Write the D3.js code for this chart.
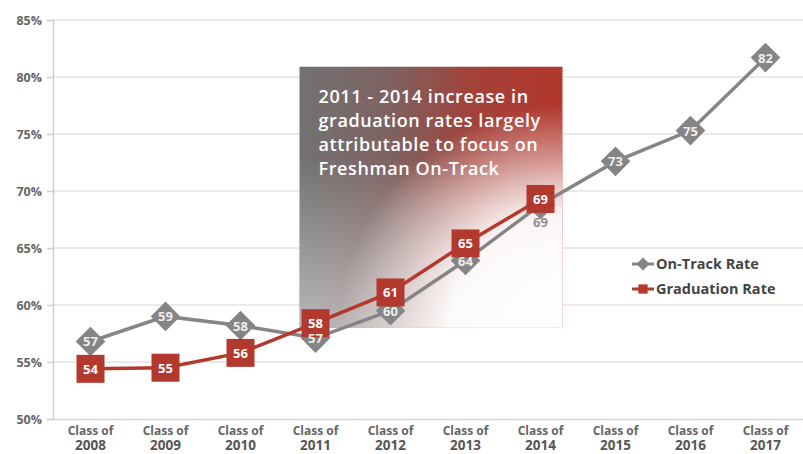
<html>
<head>
  <script src="https://d3js.org/d3.v7.min.js"></script>
  <style>
    body { margin: 0; background: #fff; }
    text { font-family: "Open Sans", sans-serif; }
  </style>
</head>
<body>
  <script>
    let classes = ["2008", "2009", "2010", "2011", "2012", "2013", "2014", "2015", "2016", "2017"];
    let onTrack = [56.8, 59.0, 58.2, 57.1, 59.5, 63.9, 68.8, 72.6, 75.3, 81.7];
    let onTrackLabels = ["57", "59", "58", "57", "60", "64", "69", "73", "75", "82"];
    let graduation = [54.4, 54.5, 55.8, 58.4, 61.1, 65.4, 69.3];
    let gradLabels = ["54", "55", "56", "58", "61", "65", "69"];
    let yTicks = [50, 55, 60, 65, 70, 75, 80, 85];
    let noteLines = ["2011 - 2014 increase in", "graduation rates largely", "attributable to focus on", "Freshman On-Track"];

    let width = 803;
    let height = 454;
    let margin = {left: 53, right: 0, top: 20, bottom: 35};

    let svg = d3.select("body")
      .append("svg")
      .attr("width", width)
      .attr("height", height);

    let x = d3.scaleBand()
      .domain(classes)
      .range([margin.left, width - margin.right]);

    let y = d3.scaleLinear()
      .domain([50, 85])
      .range([height - margin.bottom, margin.top]);

    let cx = i => x(classes[i]) + x.bandwidth() / 2;

    // gridlines
    svg.append("g")
      .selectAll("line")
      .data(yTicks.slice(1))
      .enter()
      .append("line")
      .attr("x1", margin.left)
      .attr("x2", width)
      .attr("y1", d => y(d))
      .attr("y2", d => y(d))
      .attr("stroke", "#e3e3e3")
      .attr("stroke-width", 1.5);

    // annotation box gradients
    let defs = svg.append("defs");
    let lin = defs.append("linearGradient").attr("id", "boxGrad")
      .attr("x1", "0%").attr("y1", "0%").attr("x2", "100%").attr("y2", "0%");
    lin.append("stop").attr("offset", "0%").attr("stop-color", "#727272");
    lin.append("stop").attr("offset", "35%").attr("stop-color", "#7e6261");
    lin.append("stop").attr("offset", "65%").attr("stop-color", "#a2423a");
    lin.append("stop").attr("offset", "100%").attr("stop-color", "#b3372d");

    let rad = defs.append("radialGradient").attr("id", "fadeGrad")
      .attr("cx", "100%").attr("cy", "100%").attr("r", "85%")
      .attr("fx", "100%").attr("fy", "100%");
    rad.append("stop").attr("offset", "0%").attr("stop-color", "#fff").attr("stop-opacity", 1);
    rad.append("stop").attr("offset", "50%").attr("stop-color", "#fff").attr("stop-opacity", 0.95);
    rad.append("stop").attr("offset", "100%").attr("stop-color", "#fff").attr("stop-opacity", 0);

    let vfade = defs.append("linearGradient").attr("id", "vFade")
      .attr("x1", "0%").attr("y1", "0%").attr("x2", "0%").attr("y2", "100%");
    vfade.append("stop").attr("offset", "35%").attr("stop-color", "#fff").attr("stop-opacity", 0);
    vfade.append("stop").attr("offset", "100%").attr("stop-color", "#fff").attr("stop-opacity", 0.5);

    let boxX0 = cx(3) - 16;
    let boxX1 = cx(6) + 22;
    let boxY0 = y(80.9);
    let boxY1 = y(58.0);

    let box = svg.append("g");
    ["url(#boxGrad)", "url(#vFade)", "url(#fadeGrad)"].forEach(f => {
      box.append("rect")
        .attr("x", boxX0).attr("y", boxY0)
        .attr("width", boxX1 - boxX0).attr("height", boxY1 - boxY0)
        .attr("fill", f);
    });

    box.selectAll("text")
      .data(noteLines)
      .enter()
      .append("text")
      .attr("x", boxX0 + 19)
      .attr("y", (d, i) => boxY0 + 36 + i * 24)
      .attr("fill", "#fff")
      .attr("font-size", 18)
      .attr("letter-spacing", 0.6)
      .attr("font-weight", 600)
      .text(d => d);

    // y axis
    let yAxis = svg.append("g")
      .attr("transform", "translate(" + margin.left + ",0)")
      .call(d3.axisLeft(y).tickValues(yTicks).tickFormat(d => d + "%").tickSize(6).tickPadding(5));
    yAxis.select(".domain").attr("stroke", "#cfcfcf").attr("stroke-width", 1.5);
    yAxis.selectAll(".tick line").attr("stroke", "#cfcfcf").attr("stroke-width", 1.5);
    yAxis.selectAll(".tick text")
      .attr("fill", "#666")
      .attr("font-size", 12.5)
      .attr("font-weight", 700)
      .style("font-family", "'Open Sans', sans-serif");

    // x axis
    let xAxis = svg.append("g")
      .attr("transform", "translate(0," + y(50) + ")")
      .call(d3.axisBottom(x).tickSize(0).tickFormat(""));
    xAxis.select(".domain").attr("stroke", "#d6d6d6").attr("stroke-width", 1.5);

    let xl = svg.append("g");
    xl.selectAll(".lab1")
      .data(classes)
      .enter()
      .append("text")
      .attr("x", d => x(d) + x.bandwidth() / 2)
      .attr("y", 435)
      .attr("text-anchor", "middle")
      .attr("fill", "#666")
      .attr("font-size", 12)
      .attr("font-weight", 700)
      .text("Class of");
    xl.selectAll(".lab2")
      .data(classes)
      .enter()
      .append("text")
      .attr("x", d => x(d) + x.bandwidth() / 2)
      .attr("y", 450)
      .attr("text-anchor", "middle")
      .attr("fill", "#555")
      .attr("font-size", 13.5)
      .attr("font-weight", 700)
      .text(d => d);

    let line = d3.line().x((d, i) => cx(i)).y(d => y(d));

    // on-track series
    svg.append("path")
      .datum(onTrack)
      .attr("fill", "none")
      .attr("stroke", "#858585")
      .attr("stroke-width", 3.5)
      .attr("d", line);
    let dia = svg.append("g").selectAll("g")
      .data(onTrack)
      .enter()
      .append("g")
      .attr("transform", (d, i) => "translate(" + cx(i) + "," + y(d) + ")");
    dia.append("path")
      .attr("d", d3.symbol().type(d3.symbolDiamond2).size(560))
      .attr("fill", "#858585");
    let otLab = svg.append("g");

    // graduation series
    svg.append("path")
      .datum(graduation)
      .attr("fill", "none")
      .attr("stroke", "#b3382e")
      .attr("stroke-width", 3.5)
      .attr("d", line);
    let sq = svg.append("g").selectAll("g")
      .data(graduation)
      .enter()
      .append("g")
      .attr("transform", (d, i) => "translate(" + cx(i) + "," + y(d) + ")");
    sq.append("rect")
      .attr("x", -14).attr("y", -14)
      .attr("width", 28).attr("height", 28)
      .attr("fill", "#b3382e");
    sq.append("text")
      .attr("y", 5)
      .attr("text-anchor", "middle")
      .attr("fill", "#fff")
      .attr("font-size", 13)
      .attr("font-weight", 700)
      .text((d, i) => gradLabels[i]);

    // on-track labels (the 2014 one sits under the covered marker)
    otLab.raise();
    otLab.selectAll("text")
      .data(onTrack)
      .enter()
      .append("text")
      .attr("x", (d, i) => cx(i))
      .attr("y", (d, i) => y(d) + (i == 6 ? 22 : 5))
      .attr("text-anchor", "middle")
      .attr("fill", (d, i) => i == 6 ? "#8f8f8f" : "#eee")
      .attr("font-size", 13)
      .attr("font-weight", 700)
      .text((d, i) => onTrackLabels[i]);
    sq.raise();

    // legend
    let legend = svg.append("g").attr("transform", "translate(634,264)");
    let legItems = [
      {name: "On-Track Rate", color: "#858585", sym: d3.symbolDiamond2, size: 110},
      {name: "Graduation Rate", color: "#b3382e", sym: d3.symbolSquare2, size: 110}
    ];
    let li = legend.selectAll("g")
      .data(legItems)
      .enter()
      .append("g")
      .attr("transform", (d, i) => "translate(0," + i * 25 + ")");
    li.append("line")
      .attr("x1", -2).attr("x2", 20)
      .attr("stroke", d => d.color)
      .attr("stroke-width", 3);
    li.append("path")
      .attr("transform", "translate(9,0)")
      .attr("d", d => d3.symbol().type(d.sym).size(d.size)())
      .attr("fill", d => d.color);
    li.append("text")
      .attr("x", 22)
      .attr("y", 5)
      .attr("fill", "#444")
      .attr("font-size", 14.5)
      .attr("font-weight", 700)
      .text(d => d.name);
  </script>
</body>
</html>
